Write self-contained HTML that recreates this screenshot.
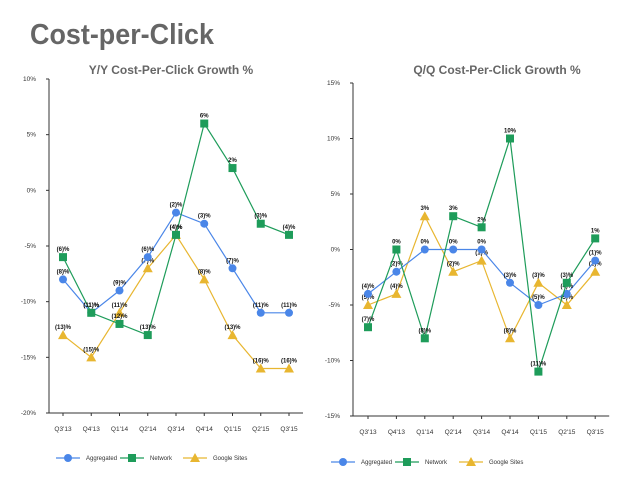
<!DOCTYPE html>
<html><head><meta charset="utf-8"><style>
body{margin:0;background:#fff;width:640px;height:480px;overflow:hidden;font-family:"Liberation Sans",sans-serif}
</style></head><body>
<svg width="640" height="480" xmlns="http://www.w3.org/2000/svg">
<text x="30" y="44" font-size="29" font-weight="bold" fill="#666" textLength="184" lengthAdjust="spacingAndGlyphs">Cost-per-Click</text>
<g id="c1"></g>
<g id="c2"></g>
</svg>
<script>
const categories=["Q3'13","Q4'13","Q1'14","Q2'14","Q3'14","Q4'14","Q1'15","Q2'15","Q3'15"];
const yyAggregated=[-8,-11,-9,-6,-2,-3,-7,-11,-11];
const yyNetwork=[-6,-11,-12,-13,-4,6,2,-3,-4];
const yyGoogle=[-13,-15,-11,-7,-4,-8,-13,-16,-16];
const qqAggregated=[-4,-2,0,0,0,-3,-5,-4,-1];
const qqNetwork=[-7,0,-8,3,2,10,-11,-3,1];
const qqGoogle=[-5,-4,3,-2,-1,-8,-3,-5,-2];
const yyTicks=[10,5,0,-5,-10,-15,-20];
const qqTicks=[15,10,5,0,-5,-10,-15];
const NS="http://www.w3.org/2000/svg";
const colors={agg:"#4a86e8",net:"#1e9c5a",gs:"#e8b630"};
function mk(p,tag,a){const e=document.createElementNS(NS,tag);for(const k in a)e.setAttribute(k,a[k]);p.appendChild(e);return e;}
function fmt(v){return v<0?"("+(-v)+")%":v+"%";}
function marker(g,type,x,y,c){
  let e;
  if(type==="agg")e=mk(g,"circle",{cx:x,cy:y,r:4,fill:c});
  else if(type==="net")e=mk(g,"rect",{x:x-4,y:y-4,width:8,height:8,fill:c});
  else e=mk(g,"polygon",{points:`${x},${y-5} ${x+5},${y+4} ${x-5},${y+4}`,fill:c});
  return e;
}
function chart(id,cfg){
  const g=document.getElementById(id);
  const yS=v=>cfg.y0+(cfg.max-v)*(cfg.y1-cfg.y0)/(cfg.max-cfg.min);
  const xS=i=>cfg.x0+i*cfg.dx;
  let t=mk(g,"text",{x:cfg.tx,y:74,"font-size":12,"font-weight":"bold",fill:"#666","text-anchor":"middle"});
  t.textContent=cfg.title;
  
  
  let ax=mk(g,"line",{x1:cfg.ax,y1:cfg.y0,x2:cfg.ax,y2:cfg.y1,stroke:"#333","stroke-width":1});
  
  
  let bx=mk(g,"line",{x1:cfg.ax,y1:cfg.y1,x2:xS(8)+14,y2:cfg.y1,stroke:"#333","stroke-width":1});
  
  
  cfg.ticks.forEach(v=>{
    mk(g,"line",{x1:cfg.ax-3,y1:yS(v),x2:cfg.ax,y2:yS(v),stroke:"#333"});
    const l=mk(g,"text",{x:cfg.ax-13,y:yS(v)+2,"font-size":6.5,fill:"#333","text-anchor":"end"});
    l.textContent=v+"%";
    
    
  });
  categories.forEach((c,i)=>{
    mk(g,"line",{x1:xS(i),y1:cfg.y1,x2:xS(i),y2:cfg.y1+3,stroke:"#333"});
    const l=mk(g,"text",{x:xS(i),y:cfg.y1+18,"font-size":6.5,fill:"#333","text-anchor":"middle"});
    l.textContent=c;
    
    
  });
  [["gs",cfg.gs],["agg",cfg.agg],["net",cfg.net]].forEach(([k,d])=>{
    const s=mk(g,"g",{});
    
    
    mk(s,"polyline",{points:d.map((v,i)=>xS(i)+","+yS(v)).join(" "),fill:"none",stroke:colors[k],"stroke-width":1.2});
    d.forEach((v,i)=>{
      const m=marker(s,k,xS(i),yS(v),colors[k]);
      
      
      const l=mk(s,"text",{x:xS(i),y:yS(v)-6,"font-size":6,"font-weight":"bold",fill:"#111","text-anchor":"middle"});
      l.textContent=fmt(v);
      
      
    });
  });
  const names={agg:"Aggregated",net:"Network",gs:"Google Sites"};
  cfg.leg.forEach(([k,x])=>{
    const lg=mk(g,"g",{});
    
    
    mk(lg,"line",{x1:x-12,y1:cfg.ly,x2:x+12,y2:cfg.ly,stroke:colors[k],"stroke-width":1.2});
    marker(lg,k,x,cfg.ly,colors[k]);
    const l=mk(lg,"text",{x:x+18,y:cfg.ly+2,"font-size":6,fill:"#333"});
    l.textContent=names[k];
  });
}
chart("c1",{title:"Y/Y Cost-Per-Click Growth %",tx:171,ax:49,y0:79,y1:413,max:10,min:-20,x0:63,dx:28.25,ticks:yyTicks,agg:yyAggregated,net:yyNetwork,gs:yyGoogle,ly:458,leg:[["agg",68],["net",132],["gs",195]]});
chart("c2",{title:"Q/Q Cost-Per-Click Growth %",tx:497,ax:353,y0:83,y1:416,max:15,min:-15,x0:368,dx:28.4,ticks:qqTicks,agg:qqAggregated,net:qqNetwork,gs:qqGoogle,ly:462,leg:[["agg",343],["net",407],["gs",471]]});
</script>
</body></html>
